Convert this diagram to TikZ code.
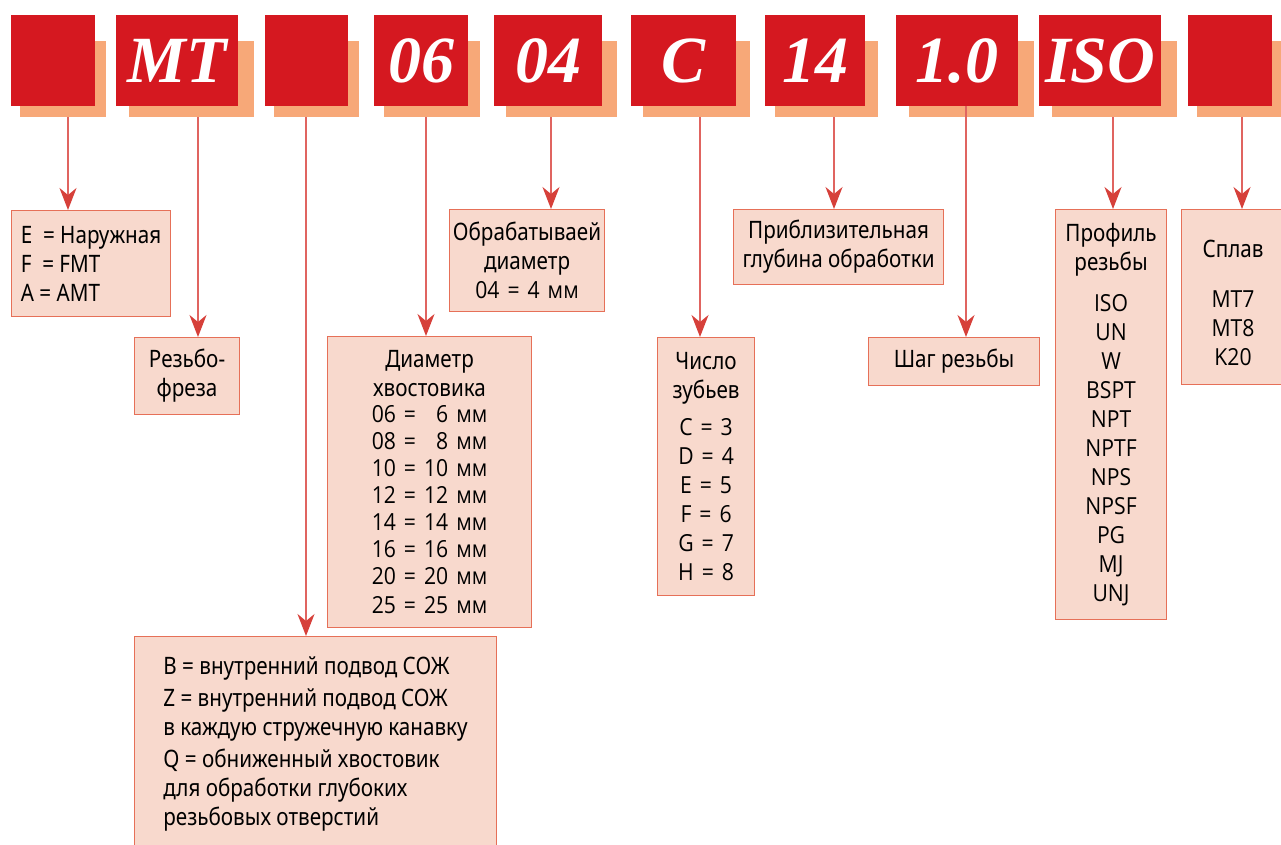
\documentclass[tikz,border=0pt]{standalone}
\usepackage{fontspec}
\setmainfont{Noto Sans}
\newfontfamily\headfont{Noto Sans}[FakeStretch=0.86]
\newfontfamily\listfont{Open Sans}[FakeStretch=0.9,WordSpace=0.6]
\newfontfamily\codefont{Liberation Serif}
\usetikzlibrary{positioning,arrows.meta}

\definecolor{codered}{RGB}{213,24,32}
\definecolor{shadoworange}{RGB}{247,168,120}
\definecolor{boxfill}{RGB}{248,217,205}
\definecolor{boxline}{RGB}{230,112,88}
\definecolor{linered}{RGB}{224,100,96}
\definecolor{arrowred}{RGB}{214,64,58}

\begin{document}
\begin{tikzpicture}[x=1pt,y=-1pt,
  code/.style={fill=codered, text=white, anchor=north west, inner sep=0pt,
    minimum height=91pt, font=\codefont\bfseries\itshape\fontsize{66}{66}\selectfont},
  shade/.style={fill=shadoworange, anchor=north west, inner sep=0pt, minimum height=76pt},
  desc/.style={draw=boxline, fill=boxfill, line width=1.1pt, anchor=north west,
    inner sep=0pt, align=center, font=\headfont\fontsize{24}{29}\selectfont},
  link/.style={draw=linered, line width=1.5pt,
    -{Stealth[length=22pt,width=17pt,inset=7pt,color=arrowred]}}]
\useasboundingbox (0,0) rectangle (1281,845);

%Arrow columns
\coordinate (a1) at (68,0);
\coordinate (a2) at (198,0);
\coordinate (a3) at (306,0);
\coordinate (a4) at (426,0);
\coordinate (a5) at (551,0);
\coordinate (a6) at (700,0);
\coordinate (a7) at (834,0);
\coordinate (a8) at (966,0);
\coordinate (a9) at (1113,0);
\coordinate (a10) at (1242,0);

% Code Boxes
\node[shade, minimum width=86pt] (sType) at (20,41) {};
\node[code, minimum width=84pt] (kType) at (11,15) {};
\node[shade, minimum width=125pt] (sMT) at (129,41) {};
\node[code, minimum width=122pt] (kMT) at (116,15) {MT};
\node[shade, minimum width=85pt] (sCool) at (274,41) {};
\node[code, minimum width=83pt] (kCool) at (265,15) {};
\node[shade, minimum width=96pt] (sShank) at (384,41) {};
\node[code, minimum width=94pt] (kShank) at (374,15) {06};
\node[shade, minimum width=111pt] (sCut) at (506,41) {};
\node[code, minimum width=108pt] (kCut) at (494,15) {04};
\node[shade, minimum width=107pt] (sTeeth) at (643,41) {};
\node[code, minimum width=105pt] (kTeeth) at (631,15) {C};
\node[shade, minimum width=103pt] (sDepth) at (775,41) {};
\node[code, minimum width=100pt] (kDepth) at (765,15) {14};
\node[shade, minimum width=125pt] (sPitch) at (909,41) {};
\node[code, minimum width=122pt] (kPitch) at (896,15) {1.0};
\node[shade, minimum width=125pt] (sProf) at (1052,41) {};
\node[code, minimum width=122pt] (kProf) at (1039,15) {ISO};
\node[shade, minimum width=86pt] (sGrade) at (1197,41) {};
\node[code, minimum width=84pt] (kGrade) at (1188,15) {};

% Text Node
\node[desc, minimum width=159pt, minimum height=106pt, align=left] (dType) at (11,210)
  {E\ \ = Наружная\\F\ \ = FMT\\A = AMT};
% Text Node
\node[desc, minimum width=105pt, minimum height=77pt] (dMT) at (134,337)
  {Резьбо-\\фреза};
% Text Node
\node[desc, minimum width=204pt, minimum height=291pt, text width=198pt] (dShank) at (327,336)
  {Диаметр\\хвостовика\\[-1pt]
   \listfont\fontsize{23.5}{27}\selectfont
   06 = \phantom{1}6 мм\\08 = \phantom{1}8 мм\\10 = 10 мм\\12 = 12 мм\\
   14 = 14 мм\\16 = 16 мм\\20 = 20 мм\\25 = 25 мм};
% Text Node
\node[desc, minimum width=362pt, minimum height=215pt, align=left] (dCool) at (134,636)
  {B = внутренний подвод СОЖ\\[3pt]
   Z = внутренний подвод СОЖ\\в каждую стружечную канавку\\[3pt]
   Q = обниженный хвостовик\\для обработки глубоких\\резьбовых отверстий};
% Text Node
\node[desc, minimum width=155pt, minimum height=102pt, text width=152pt] (dCut) at (449,209)
  {Обрабатываей\\диаметр\\ \listfont\fontsize{23.5}{29}\selectfont 04 = 4 мм};
% Text Node
\node[desc, minimum width=97pt, minimum height=258pt, text width=94pt] (dTeeth) at (657,337)
  {Число\\зубьев\\[8pt] \listfont\fontsize{23.5}{29}\selectfont
   C = 3\\D = 4\\E = 5\\F = 6\\G = 7\\H = 8};
% Text Node
\node[desc, minimum width=210pt, minimum height=75pt] (dDepth) at (733,209)
  {Приблизительная\\глубина обработки};
% Text Node
\node[desc, minimum width=171pt, minimum height=48pt] (dPitch) at (868,337)
  {Шаг резьбы};
% Text Node
\node[desc, minimum width=111pt, minimum height=410pt, text width=108pt] (dProf) at (1055,209)
  {Профиль\\резьбы\\[12pt] \listfont\fontsize{23.5}{29}\selectfont
   ISO\\UN\\W\\BSPT\\NPT\\NPTF\\NPS\\NPSF\\PG\\MJ\\UNJ};
% Text Node
\node[desc, minimum width=103pt, minimum height=175pt, text width=98pt] (dGrade) at (1181,209)
  {\rule{0pt}{30pt}Сплав\\[21pt] \listfont\fontsize{23.5}{29}\selectfont MT7\\MT8\\K20};

%Straight Lines
\draw[link] (sType.south -| a1) -- (dType.north -| a1);
\draw[link] (sMT.south -| a2) -- (dMT.north -| a2);
\draw[link] (sCool.south -| a3) -- (dCool.north -| a3);
\draw[link] (sShank.south -| a4) -- (dShank.north -| a4);
\draw[link] (sCut.south -| a5) -- (dCut.north -| a5);
\draw[link] (sTeeth.south -| a6) -- (dTeeth.north -| a6);
\draw[link] (sDepth.south -| a7) -- (dDepth.north -| a7);
\draw[link] (kPitch.south -| a8) -- (dPitch.north -| a8);
\draw[link] (sProf.south -| a9) -- (dProf.north -| a9);
\draw[link] (sGrade.south -| a10) -- (dGrade.north -| a10);
\end{tikzpicture}
\end{document}
